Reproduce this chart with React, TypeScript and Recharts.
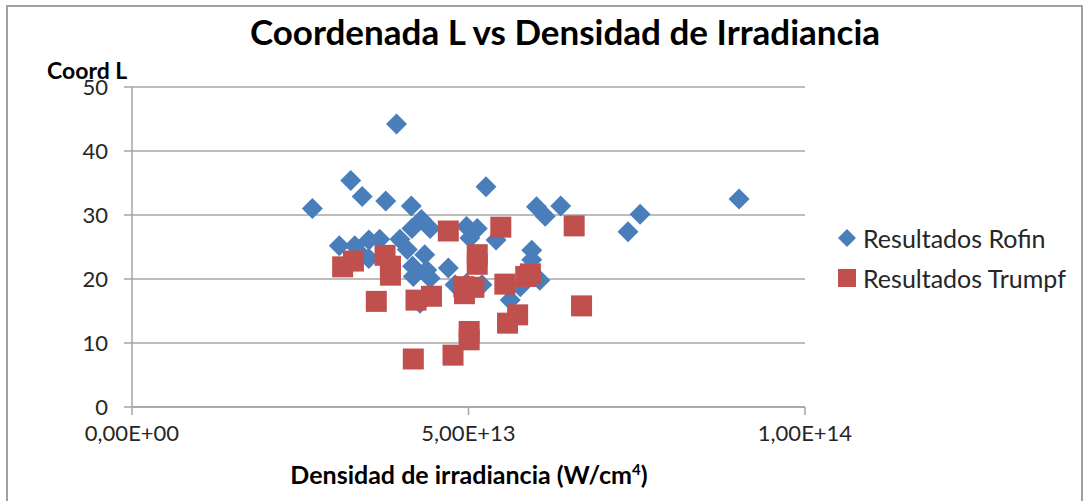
import { ScatterChart, Scatter, XAxis, YAxis, CartesianGrid } from 'recharts';

// x values in W/cm^4, y = Coord L
const rofinX = [
  26.8e12, 32.5e12, 34.2e12, 39.3e12, 37.7e12, 41.5e12, 43.0e12, 41.6e12, 30.8e12, 33.1e12,
  35.2e12, 36.8e12, 39.8e12, 40.9e12, 35.2e12, 33.9e12, 41.7e12, 41.8e12, 44.3e12, 43.5e12,
  44.3e12, 47.0e12, 49.7e12, 51.3e12, 50.2e12, 54.1e12, 52.6e12, 42.8e12, 49.7e12, 52.0e12,
  56.2e12, 57.7e12, 48.0e12, 60.1e12, 61.4e12, 63.7e12, 73.7e12, 75.5e12, 90.2e12, 59.4e12,
  59.4e12, 60.6e12, 43.8e12,
];
const rofinY = [
  31.0, 35.4, 32.9, 44.2, 32.2, 31.4, 29.3, 27.9, 25.2, 25.2,
  26.1, 26.2, 26.2, 24.6, 23.2, 24.0, 22.0, 20.4, 27.9, 23.8,
  20.1, 21.7, 28.2, 27.9, 26.4, 26.1, 34.4, 16.2, 19.3, 19.1,
  16.7, 18.8, 19.1, 31.3, 29.8, 31.4, 27.4, 30.1, 32.5, 24.5,
  23.0, 19.8, 21.4,
];

const trumpfX = [
  31.3e12, 32.9e12, 37.6e12, 38.4e12, 38.4e12, 36.3e12, 42.2e12, 41.8e12, 44.5e12, 47.0e12,
  54.8e12, 51.3e12, 51.3e12, 49.3e12, 49.4e12, 50.8e12, 55.4e12, 58.5e12, 59.2e12, 55.8e12,
  57.3e12, 50.1e12, 50.1e12, 47.7e12, 65.7e12, 66.8e12,
];
const trumpfY = [
  21.9, 22.8, 23.7, 22.0, 20.6, 16.5, 16.7, 7.5, 17.3, 27.5,
  28.1, 23.8, 22.3, 18.8, 17.7, 18.7, 19.2, 20.4, 20.8, 13.1,
  14.4, 11.8, 10.5, 8.1, 28.3, 15.8,
];

const xTicks = [0, 5e13, 1e14];
const yTicks = [0, 10, 20, 30, 40, 50];

const title = 'Coordenada L vs Densidad de Irradiancia';
const xTitle = 'Densidad de irradiancia (W/cm';
const yTitle = 'Coord L';
const seriesNames = ['Resultados Rofin', 'Resultados Trumpf'];

const BLUE = '#4a7ebb';
const RED = '#c0504d';
const FONT = 'Lato, "Open Sans", sans-serif';

const rofin = rofinX.map((x, i) => ({ x, y: rofinY[i] }));
const trumpf = trumpfX.map((x, i) => ({ x, y: trumpfY[i] }));

function sci(v: number) {
  if (v === 0) return '0,00E+00';
  const [m, e] = v.toExponential(2).split('e');
  const exp = Number(e);
  return `${m.replace('.', ',')}E${exp < 0 ? '-' : '+'}${String(Math.abs(exp)).padStart(2, '0')}`;
}

const Diamond = (props: any) => {
  const { cx, cy } = props;
  const r = 10.5;
  return <polygon points={`${cx},${cy - r} ${cx + r},${cy} ${cx},${cy + r} ${cx - r},${cy}`} fill={BLUE} />;
};

const Square = (props: any) => {
  const { cx, cy } = props;
  const h = 10.5;
  return <rect x={cx - h} y={cy - h} width={h * 2} height={h * 2} fill={RED} />;
};

export default function App() {
  return (
    <div style={{ position: 'fixed', left: 0, top: 0, width: 1086, height: 501, overflow: 'hidden', background: '#fff', fontFamily: FONT }}>
      <div style={{ position: 'absolute', left: 0, top: 0 }}>
        <ScatterChart width={1086} height={501} margin={{ top: 87, right: 281, bottom: 54, left: 0 }}>
          <CartesianGrid vertical={false} stroke="#a6a6a6" strokeWidth={1.5} />
          <XAxis
            type="number"
            dataKey="x"
            domain={[0, 1e14]}
            ticks={xTicks}
            tickFormatter={sci}
            height={40}
            stroke="#a6a6a6"
            strokeWidth={1.5}
            tickSize={8}
            tickMargin={10}
            tick={{ fill: '#262626', fontSize: 22, fontFamily: FONT }}
            interval={0}
          />
          <YAxis
            type="number"
            dataKey="y"
            domain={[0, 50]}
            ticks={yTicks}
            width={132}
            stroke="#a6a6a6"
            strokeWidth={1.5}
            tickSize={8}
            tickMargin={16}
            tick={{ fill: '#262626', fontSize: 22, fontFamily: FONT }}
            interval={0}
          />
          <Scatter name={seriesNames[0]} data={rofin} shape={Diamond} isAnimationActive={false} />
          <Scatter name={seriesNames[1]} data={trumpf} shape={Square} isAnimationActive={false} />
        </ScatterChart>
      </div>
      <div style={{ position: 'absolute', left: 0, width: 1130, top: 10, textAlign: 'center', fontSize: 35, fontWeight: 700, color: '#000' }}>
        {title}
      </div>
      <div style={{ position: 'absolute', left: 47, top: 56, fontSize: 23, fontWeight: 700, color: '#000' }}>{yTitle}</div>
      <div style={{ position: 'absolute', left: 0, width: 938, top: 459, textAlign: 'center', fontSize: 25, fontWeight: 700, color: '#000' }}>
        {xTitle}
        <sup style={{ fontSize: 15 }}>4</sup>)
      </div>
      <div style={{ position: 'absolute', left: 838, top: 218, fontSize: 25, color: '#262626', lineHeight: '40px' }}>
        <div style={{ display: 'flex', alignItems: 'center' }}>
          <svg width={22} height={20}>
            <polygon points="9,1 18,10 9,19 0,10" fill={BLUE} />
          </svg>
          <span style={{ marginLeft: 3 }}>{seriesNames[0]}</span>
        </div>
        <div style={{ display: 'flex', alignItems: 'center' }}>
          <svg width={22} height={20}>
            <rect x={0} y={1} width={18} height={18} fill={RED} />
          </svg>
          <span style={{ marginLeft: 3 }}>{seriesNames[1]}</span>
        </div>
      </div>
      <div style={{ position: 'absolute', left: 6, top: 5, width: 1073, height: 560, borderLeft: '2px solid #a0a0a0', borderTop: '2px solid #a0a0a0', borderRight: '2px solid #a0a0a0', pointerEvents: 'none' }} />
    </div>
  );
}
